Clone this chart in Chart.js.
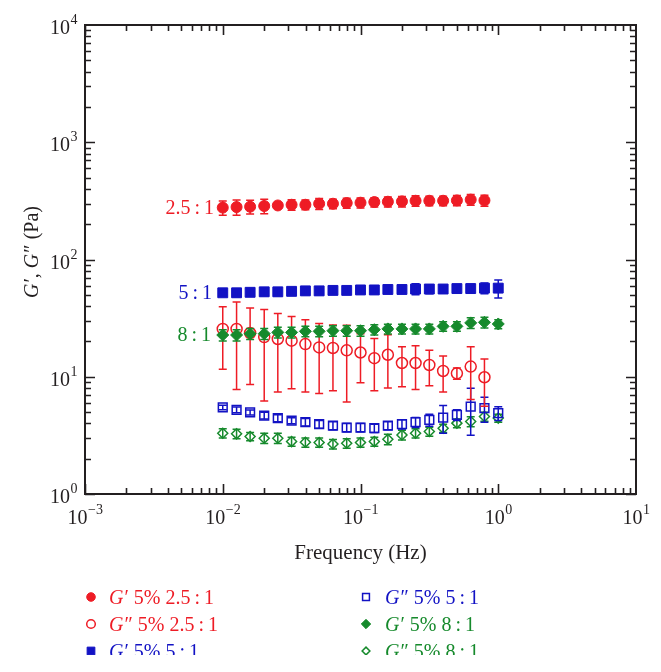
<!DOCTYPE html>
<html>
<head>
<meta charset="utf-8">
<script src="https://cdn.jsdelivr.net/npm/chart.js@4.4.1/dist/chart.umd.min.js"></script>
<style>
  html, body { margin: 0; padding: 0; background: #fff; }
  canvas { display: block; }
</style>
</head>
<body>
<canvas id="myChart" width="661" height="672"></canvas>
<script>
// frequency sweep (Hz), 10 points per decade
const freq = [0.01, 0.0126, 0.0158, 0.02, 0.0251, 0.0316, 0.0398, 0.0501, 0.0631, 0.0794,
  0.1, 0.126, 0.158, 0.2, 0.251, 0.316, 0.398, 0.501, 0.631, 0.794, 1]

// 2.5:1
const g1_25 = [277, 280, 282, 286, 289, 293, 293, 299, 299, 303, 305, 309, 311, 313, 317, 317, 317, 319, 324, 319]
const g1_25err = [38, 42, 38, 40, 4, 30, 28, 32, 28, 30, 30, 28, 30, 32, 32, 30, 30, 32, 34, 34]
const g2_25 = [25.6, 25.6, 23.6, 21.8, 21.0, 20.3, 19.0, 17.8, 17.6, 16.8, 16.1, 14.4, 15.4, 13.1, 13.1, 12.6, 11.2, 10.7, 12.2, 9.9]
const g2_25err = [14, 17.8, 15, 15.6, 13.6, 12.4, 11.6, 10.6, 10, 10.7, 7.2, 6.8, 7.4, 4.9, 5.3, 4.2, 3.8, 1.2, 5.8, 4.3]

// 5:1
const g1_5 = [52, 52, 52.5, 53, 53, 53.5, 54, 54, 54.5, 54.5, 55, 55, 55.5, 55.5, 56, 56, 56, 56.5, 56.5, 57, 57]
const g1_5err = [3, 4, 4, 4, 4, 4, 4, 4, 4, 4, 4, 4, 4, 4, 6, 5, 4, 4, 5, 6, 10]
const g2_5 = [5.47, 5.22, 4.96, 4.67, 4.44, 4.23, 4.1, 3.94, 3.83, 3.69, 3.69, 3.64, 3.83, 3.94, 4.1, 4.29, 4.49, 4.73, 5.57, 5.4, 4.89]
const g2_5err = [0.25, 0.3, 0.25, 0.3, 0.3, 0.25, 0.3, 0.3, 0.3, 0.3, 0.3, 0.3, 0.3, 0.35, 0.4, 0.5, 1.2, 0.5, 2.4, 1.3, 0.65]

// 8:1
const g1_8 = [22.7, 22.7, 23.3, 23.3, 23.9, 23.9, 24.4, 24.4, 24.7, 24.7, 24.7, 25.2, 25.6, 25.6, 25.6, 25.6, 26.9, 26.9, 28.8, 29.1, 28.2]
const g1_8err = [2.5, 2.5, 2.5, 2.5, 2.5, 2.5, 2.5, 2.5, 2.5, 2.5, 2.5, 2.5, 2.5, 2.5, 2.5, 2.5, 2.5, 2.5, 3, 3, 2.5]
const g2_8 = [3.3, 3.26, 3.09, 2.99, 2.99, 2.8, 2.76, 2.75, 2.67, 2.71, 2.75, 2.8, 2.93, 3.19, 3.3, 3.41, 3.64, 4.02, 4.15, 4.58, 4.44]
const g2_8err = [0.3, 0.3, 0.25, 0.3, 0.3, 0.25, 0.25, 0.25, 0.25, 0.25, 0.25, 0.25, 0.3, 0.3, 0.3, 0.3, 0.3, 0.35, 0.4, 0.4, 0.35]

// axis ticks (value, exponent label)
const xTicks = [0.001, 0.01, 0.1, 1, 10]
const xTickLabels = ["\u22123", "\u22122", "\u22121", "0", "1"]
const yTicks = [1, 10, 100, 1000, 10000]
const yTickLabels = ["0", "1", "2", "3", "4"]

const RED = "#ee1c25"
const BLUE = "#1212c4"
const GREEN = "#168a2c"
const INK = "#231f20"
const FONT = '"Liberation Serif", "DejaVu Serif", serif'

function pts(vals, errs) {
  return vals.map((v, i) => ({ x: freq[i], y: v, err: errs[i] }))
}

const datasets = [
  { label: "G' 5% 2.5:1", data: pts(g1_25, g1_25err), pointStyle: "circle", pointRadius: 5.5,
    backgroundColor: RED, borderColor: RED, pointBorderWidth: 1, order: 0, prime: "\u2032", tail: " 5% 2.5\u2009:\u20091" },
  { label: "G'' 5% 2.5:1", data: pts(g2_25, g2_25err), pointStyle: "circle", pointRadius: 5.5,
    backgroundColor: "rgba(0,0,0,0)", borderColor: RED, pointBorderWidth: 1.5, order: 3, prime: "\u2033", tail: " 5% 2.5\u2009:\u20091" },
  { label: "G' 5% 5:1", data: pts(g1_5, g1_5err), pointStyle: "rect", pointRadius: 7,
    backgroundColor: BLUE, borderColor: BLUE, pointBorderWidth: 1, order: 2, prime: "\u2032", tail: " 5% 5\u2009:\u20091" },
  { label: "G'' 5% 5:1", data: pts(g2_5, g2_5err), pointStyle: "rect", pointRadius: 6.2,
    backgroundColor: "rgba(0,0,0,0)", borderColor: BLUE, pointBorderWidth: 1.5, order: 4, prime: "\u2033", tail: " 5% 5\u2009:\u20091" },
  { label: "G' 5% 8:1", data: pts(g1_8, g1_8err), pointStyle: "rectRot", pointRadius: 6,
    backgroundColor: GREEN, borderColor: GREEN, pointBorderWidth: 1, order: 1, prime: "\u2032", tail: " 5% 8\u2009:\u20091" },
  { label: "G'' 5% 8:1", data: pts(g2_8, g2_8err), pointStyle: "rectRot", pointRadius: 5,
    backgroundColor: "rgba(0,0,0,0)", borderColor: GREEN, pointBorderWidth: 1.5, order: 5, prime: "\u2033", tail: " 5% 8\u2009:\u20091" },
]
datasets.forEach(d => { d.showLine = false; d.pointHoverRadius = d.pointRadius })

// marker used in the legend (a bit smaller than in the plot)
function marker(ctx, ds, x, y) {
  const r = ds.pointRadius * 0.78
  ctx.save()
  ctx.fillStyle = ds.backgroundColor
  ctx.strokeStyle = ds.borderColor
  ctx.lineWidth = ds.pointBorderWidth
  ctx.beginPath()
  if (ds.pointStyle === "circle") ctx.arc(x, y, r, 0, Math.PI * 2)
  else if (ds.pointStyle === "rect") { const s = r * Math.SQRT1_2; ctx.rect(x - s, y - s, 2 * s, 2 * s) }
  else { ctx.moveTo(x - r, y); ctx.lineTo(x, y - r); ctx.lineTo(x + r, y); ctx.lineTo(x, y + r); ctx.closePath() }
  ctx.fill()
  ctx.stroke()
  ctx.restore()
}

// text pieces: [text, italic, extra gap]
function richWidth(ctx, parts, size) {
  let w = 0
  parts.forEach(p => { ctx.font = (p[1] ? "italic " : "") + size + "px " + FONT; w += ctx.measureText(p[0]).width + (p[2] || 0) })
  return w
}
function drawRich(ctx, parts, x, y, size, color, align) {
  ctx.save()
  ctx.fillStyle = color
  ctx.textAlign = "left"
  ctx.textBaseline = "alphabetic"
  let cx = x
  if (align === "center") cx = x - richWidth(ctx, parts, size) / 2
  parts.forEach(p => {
    ctx.font = (p[1] ? "italic " : "") + size + "px " + FONT
    ctx.fillText(p[0], cx, y)
    cx += ctx.measureText(p[0]).width + (p[2] || 0)
  })
  ctx.restore()
}

function pow10(ctx, exp, x, y, align) {
  ctx.font = "20px " + FONT
  const w1 = ctx.measureText("10").width
  ctx.font = "14px " + FONT
  const w2 = ctx.measureText(exp).width
  const x0 = align === "center" ? x - (w1 + w2) / 2 : x - (w1 + w2)
  ctx.fillStyle = INK
  ctx.textAlign = "left"
  ctx.textBaseline = "alphabetic"
  ctx.font = "20px " + FONT
  ctx.fillText("10", x0, y)
  ctx.font = "14px " + FONT
  ctx.fillText(exp, x0 + w1 + 0.5, y - 10)
}

const errorBars = {
  id: "errorBars",
  afterDatasetDraw(chart, args) {
    const ctx = chart.ctx
    const ds = chart.data.datasets[args.index]
    const ys = chart.scales.y
    ctx.save()
    ctx.strokeStyle = ds.borderColor
    ctx.lineWidth = 1.5
    args.meta.data.forEach((el, i) => {
      const p = ds.data[i]
      const top = ys.getPixelForValue(p.y + p.err)
      const bot = ys.getPixelForValue(Math.max(p.y - p.err, 1))
      ctx.beginPath()
      ctx.moveTo(el.x, top); ctx.lineTo(el.x, bot)
      ctx.moveTo(el.x - 4, top); ctx.lineTo(el.x + 4, top)
      ctx.moveTo(el.x - 4, bot); ctx.lineTo(el.x + 4, bot)
      ctx.stroke()
    })
    ctx.restore()
  },
}

const frame = {
  id: "frame",
  afterDraw(chart) {
    const ctx = chart.ctx
    const a = chart.chartArea
    const xs = chart.scales.x, ys = chart.scales.y
    ctx.save()
    ctx.strokeStyle = INK
    ctx.lineWidth = 1.6
    // inward ticks on all four sides
    for (let e = -3; e < 1; e++) {
      for (let m = 1; m <= 9; m++) {
        const px = Math.round(xs.getPixelForValue(m * Math.pow(10, e))) + 0.5
        const len = m === 1 ? 10 : 6
        ctx.beginPath()
        ctx.moveTo(px, a.bottom); ctx.lineTo(px, a.bottom - len)
        ctx.moveTo(px, a.top); ctx.lineTo(px, a.top + len)
        ctx.stroke()
      }
    }
    for (let e = 0; e < 4; e++) {
      for (let m = 1; m <= 9; m++) {
        const py = Math.round(ys.getPixelForValue(m * Math.pow(10, e))) + 0.5
        const len = m === 1 ? 10 : 6
        ctx.beginPath()
        ctx.moveTo(a.left, py); ctx.lineTo(a.left + len, py)
        ctx.moveTo(a.right, py); ctx.lineTo(a.right - len, py)
        ctx.stroke()
      }
    }
    ctx.lineWidth = 2
    ctx.strokeRect(a.left, a.top, a.right - a.left, a.bottom - a.top)

    // tick labels
    xTicks.forEach((v, i) => pow10(ctx, xTickLabels[i], xs.getPixelForValue(v), a.bottom + 30, "center"))
    yTicks.forEach((v, i) => pow10(ctx, yTickLabels[i], a.left - 8, ys.getPixelForValue(v) + 9, "right"))

    // axis titles
    drawRich(ctx, [["Frequency (Hz)", false]], (a.left + a.right) / 2, 559, 21, INK, "center")
    ctx.save()
    ctx.translate(38, 252)
    ctx.rotate(-Math.PI / 2)
    drawRich(ctx, [["G", true, 1], ["\u2032", false], [", ", false], ["G", true, 1], ["\u2033", false], [" (Pa)", false]], 0, 0, 20, INK, "center")
    ctx.restore()

    // series labels inside the plot
    ctx.font = "20px " + FONT
    ctx.textAlign = "right"
    ctx.textBaseline = "middle"
    ctx.fillStyle = RED
    ctx.fillText("2.5\u2009:\u20091", 214, ys.getPixelForValue(g1_25[0]) + 1)
    ctx.fillStyle = BLUE
    ctx.fillText("5\u2009:\u20091", 212, ys.getPixelForValue(g1_5[0]) + 1)
    ctx.fillStyle = GREEN
    ctx.fillText("8\u2009:\u20091", 211, ys.getPixelForValue(g1_8[0]) + 1)

    // legend, two columns, bottom row cut off as in the figure
    ctx.save()
    ctx.beginPath()
    ctx.rect(0, 0, 661, 655)
    ctx.clip()
    const rows = [597, 624, 651]
    chart.data.datasets.forEach((ds, i) => {
      const col = i < 3 ? 0 : 1
      const row = i % 3
      const mx = col === 0 ? 91 : 366
      const tx = col === 0 ? 109 : 385
      const y = rows[row]
      marker(ctx, ds, mx, y)
      drawRich(ctx, [["G", true, 1], [ds.prime, false], [ds.tail, false]], tx, y + 7, 20, ds.borderColor, "left")
    })
    ctx.restore()
    ctx.restore()
  },
}

const ctx = document.getElementById("myChart").getContext("2d")
const myChart = new Chart(ctx, {
  type: "scatter",
  data: { datasets: datasets },
  options: {
    responsive: false,
    animation: false,
    layout: { padding: { left: 85, top: 25, right: 25, bottom: 178 } },
    plugins: { legend: { display: false }, tooltip: { enabled: false } },
    scales: {
      x: { type: "logarithmic", min: 0.001, max: 10, display: false },
      y: { type: "logarithmic", min: 1, max: 10000, display: false },
    },
  },
  plugins: [errorBars, frame],
})
</script>
</body>
</html>
